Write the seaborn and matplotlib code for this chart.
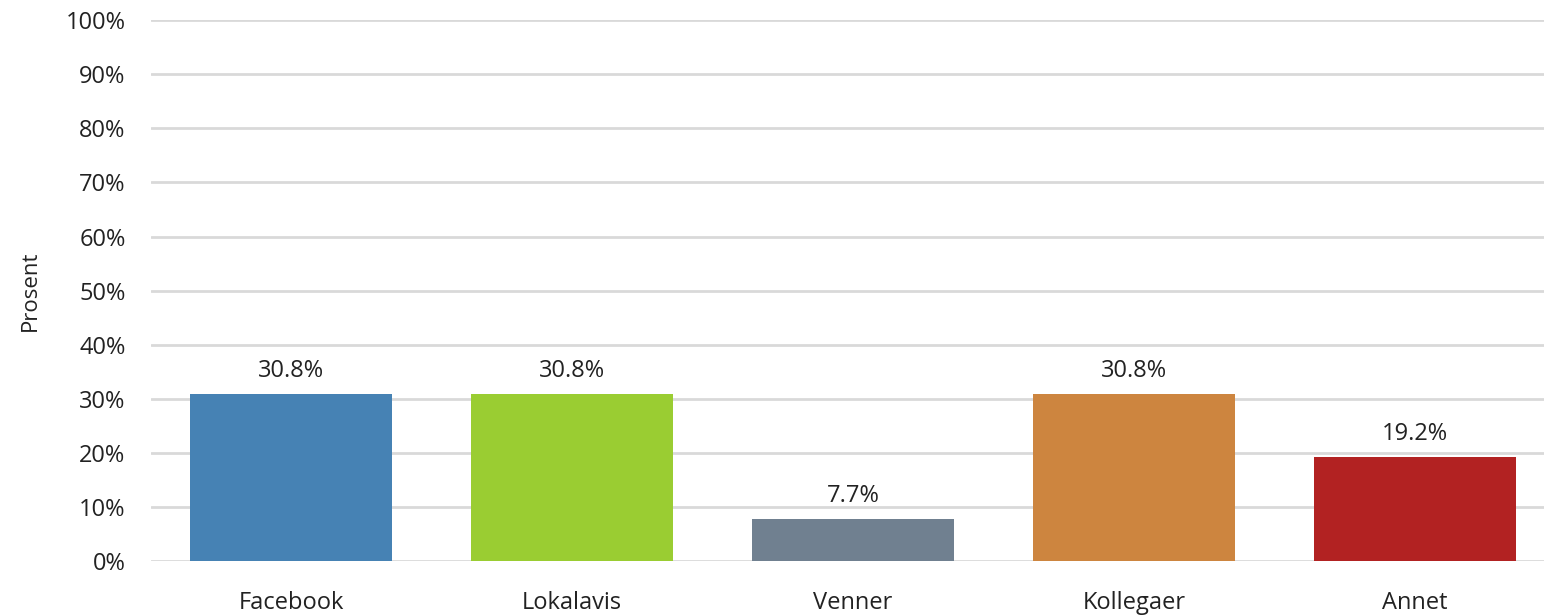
import pandas as pd
import matplotlib.pyplot as plt
import seaborn as sns
from matplotlib.ticker import PercentFormatter

# Dados
kategorier = ['Facebook', 'Lokalavis', 'Venner', 'Kollegaer', 'Annet']
andel = [30.8, 30.8, 7.7, 30.8, 19.2]
farger = ['#4682B4', '#9ACD32', '#708090', '#CD853F', '#B22222']

df = pd.DataFrame({'kategori': kategorier, 'andel': andel})

sns.set_style('white')
plt.rcParams['font.family'] = ['Open Sans', 'DejaVu Sans']

fig = plt.figure(figsize=(15.44, 6.15), dpi=100)
ax = fig.add_axes([0.0975, 0.088, 0.910, 0.879])

sns.barplot(data=df, x='kategori', y='andel', hue='kategori', palette=farger,
            width=0.72, legend=False, saturation=1, linewidth=0, ax=ax, zorder=3)

for c in ax.containers:
    ax.bar_label(c, fmt='%.1f%%', padding=8, fontsize=17, color='#222222')

ax.set_ylim(0, 100)
ax.set_yticks(range(0, 101, 10))
ax.yaxis.set_major_formatter(PercentFormatter(decimals=0))
ax.grid(axis='y', color='#d9d9d9', linewidth=2, zorder=0)
ax.set_axisbelow(True)
sns.despine(ax=ax, left=True, bottom=True)
ax.tick_params(axis='both', length=0, labelsize=17, colors='#222222')
ax.tick_params(axis='y', pad=18)
ax.tick_params(axis='x', pad=22)
ax.set_xlabel('')
ax.set_ylabel('Prosent', fontsize=16, labelpad=18, color='#222222')

plt.savefig('out.png', dpi=100)
